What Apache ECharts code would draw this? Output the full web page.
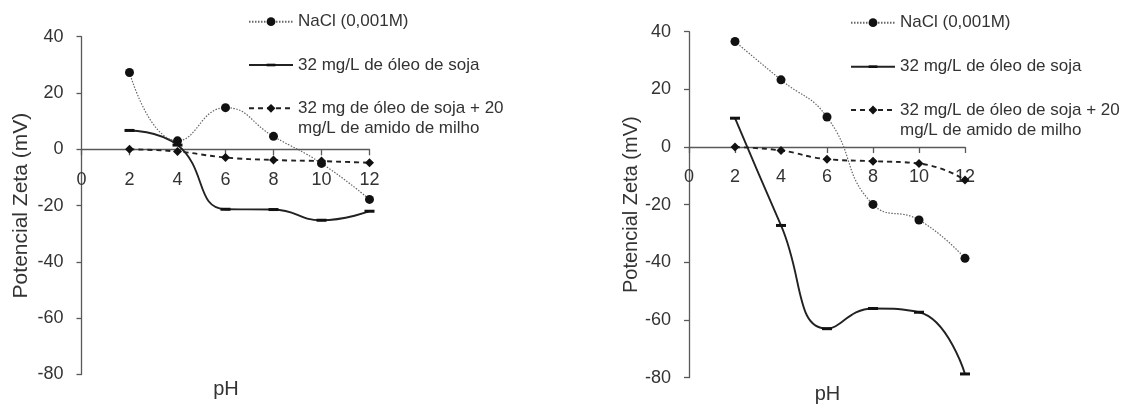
<!DOCTYPE html>
<html><head><meta charset="utf-8">
<script src="https://cdn.jsdelivr.net/npm/echarts@6/dist/echarts.min.js"></script>
<style>html,body{margin:0;padding:0;background:#fff}#c{width:1121px;height:405px}</style>
</head><body><div id="c"></div>
<script>
// ---- data ----
const phValues = [2, 4, 6, 8, 10, 12];
const xMin = 0, xMax = 12, xStep = 2;
const yMin = -80, yMax = 40, yStep = 20;

const nameNaCl = 'NaCl (0,001M)';
const nameSoja = '32 mg/L de óleo de soja';
const amidoLeftLines = ['32 mg de óleo de soja + 20', 'mg/L de amido de milho'];
const amidoRightLines = ['32 mg/L de óleo de soja + 20', 'mg/L de amido de milho'];
const nameAmidoLeft = amidoLeftLines.join(' ');
const nameAmidoRight = amidoRightLines.join(' ');

const leftNaCl = [27.3, 3.0, 14.8, 4.6, -5.0, -17.8];
const leftSoja = [6.7, 1.5, -21.3, -21.4, -25.2, -22.0];
const leftAmido = [0, -0.8, -2.9, -3.8, -4.2, -4.8];

const rightNaCl = [36.6, 23.3, 10.4, -19.9, -25.3, -38.6];
const rightSoja = [10.0, -27.2, -63.0, -56.0, -57.3, -78.7];
const rightAmido = [0, -1.2, -4.2, -4.9, -5.7, -11.4];

const yTitle = 'Potencial Zeta (mV)';
const xTitle = 'pH';

// ---- chart ----
const FONT = '"Liberation Sans", Arial, Helvetica, sans-serif';
const TXT = '#333';
const AX = '#595959';
const pairs = vals => phValues.map((p, i) => [p, vals[i]]);
const dashSymbol = 'path://M0 0L0 0M0 10L0 10M0 3.5L10 3.5L10 6.5L0 6.5Z';

const grids = [
  {left: 81.5, top: 36.7, width: 288, height: 337.8},
  {left: 689, top: 31.7, width: 276, height: 346}
];
// distance from grid bottom up to the y = 0 line, derived from the y scale
const zeroOffset = g => -g.height * (0 - yMin) / (yMax - yMin);

function xAxis(gi, margin) {
  return {gridIndex: gi, type: 'value', min: xMin, max: xMax, interval: xStep,
    position: 'bottom', offset: zeroOffset(grids[gi]),
    axisLine: {onZero: false, lineStyle: {color: AX, width: 1.3}},
    axisTick: {show: true, inside: false, length: 6, lineStyle: {color: AX, width: 1.3}},
    axisLabel: {margin: margin, fontSize: 18, color: TXT, fontFamily: FONT},
    splitLine: {show: false}};
}
function yAxis(gi, nameSize, nameGap) {
  return {gridIndex: gi, type: 'value', min: yMin, max: yMax, interval: yStep,
    name: yTitle, nameLocation: 'middle', nameGap: nameGap,
    nameTextStyle: {fontSize: nameSize, color: TXT, fontFamily: FONT},
    axisLine: {show: true, onZero: false, lineStyle: {color: AX, width: 1.3}},
    axisTick: {show: true, inside: false, length: 5, lineStyle: {color: AX, width: 1.3}},
    axisLabel: {margin: 18, fontSize: 18, color: TXT, fontFamily: FONT},
    splitLine: {show: false}};
}
function sNaCl(gi, name, vals) {
  return {type: 'line', name: name, xAxisIndex: gi, yAxisIndex: gi, data: pairs(vals),
    smooth: 0.5, symbol: 'circle', symbolSize: 9, z: 3,
    lineStyle: {color: '#666', width: 1.2, type: [1.5, 1.5]},
    itemStyle: {color: '#111', borderWidth: 0}};
}
function sSoja(gi, name, vals) {
  return {type: 'line', name: name, xAxisIndex: gi, yAxisIndex: gi, data: pairs(vals),
    smooth: 0.5, symbol: dashSymbol, symbolSize: 10, z: 2,
    lineStyle: {color: '#222', width: 1.9, type: 'solid'},
    itemStyle: {color: '#111', borderWidth: 0}};
}
function sAmido(gi, name, vals) {
  return {type: 'line', name: name, xAxisIndex: gi, yAxisIndex: gi, data: pairs(vals),
    smooth: 0.5, symbol: 'diamond', symbolSize: 9, z: 2,
    lineStyle: {color: '#222', width: 1.9, type: [5, 4]},
    itemStyle: {color: '#111', borderWidth: 0}};
}
const legendText = {};
legendText[nameAmidoLeft] = '\n' + amidoLeftLines.join('\n');
legendText[nameAmidoRight] = '\n' + amidoRightLines.join('\n');
function leg(name, left, top) {
  return {data: [name], left: left, top: top, padding: 0, itemWidth: 44, itemHeight: 11,
    selectedMode: false,
    textStyle: {fontSize: 17, lineHeight: 20, color: TXT, fontFamily: FONT},
    formatter: n => legendText[n] || n};
}

const chart = echarts.init(document.getElementById('c'), null, {renderer: 'canvas'});
chart.setOption({
  animation: false,
  backgroundColor: '#fff',
  grid: grids.map(g => Object.assign({outerBoundsMode: 'none', containLabel: false}, g)),
  xAxis: [xAxis(0, 22), xAxis(1, 21)],
  yAxis: [yAxis(0, 21, 50), yAxis(1, 20, 43)],
  title: [
    {text: xTitle, left: 226, top: 379, textAlign: 'center', padding: 0,
     textStyle: {fontSize: 20, fontWeight: 'normal', color: TXT, fontFamily: FONT}},
    {text: xTitle, left: 827.5, top: 384, textAlign: 'center', padding: 0,
     textStyle: {fontSize: 20, fontWeight: 'normal', color: TXT, fontFamily: FONT}}
  ],
  legend: [
    leg(nameNaCl, 248, 11.7), leg(nameSoja, 248, 55), leg(nameAmidoLeft, 248, 78.3),
    leg(nameNaCl, 850, 12.7), leg(nameSoja, 850, 56.7), leg(nameAmidoRight, 850, 80)
  ],
  series: [
    sNaCl(0, nameNaCl, leftNaCl), sSoja(0, nameSoja, leftSoja), sAmido(0, nameAmidoLeft, leftAmido),
    sNaCl(1, nameNaCl, rightNaCl), sSoja(1, nameSoja, rightSoja), sAmido(1, nameAmidoRight, rightAmido)
  ]
});
</script>
</body></html>
